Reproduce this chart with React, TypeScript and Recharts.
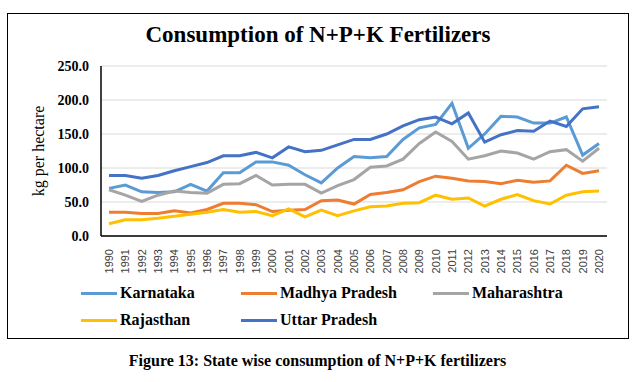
import { LineChart, Line, XAxis, YAxis, CartesianGrid } from "recharts";

const years = [
  "1990", "1991", "1992", "1993", "1994", "1995", "1996", "1997", "1998", "1999",
  "2000", "2001", "2002", "2003", "2004", "2005", "2006", "2007", "2008", "2009",
  "2010", "2011", "2012", "2013", "2014", "2015", "2016", "2017", "2018", "2019", "2020",
];

const karnataka = [70, 75, 65, 64, 65, 76, 66, 93, 93, 109, 109, 104, 90, 78, 100, 117, 115, 117, 142, 159, 164, 195, 129, 150, 176, 175, 166, 166, 175, 119, 136];
const madhyaPradesh = [35, 35, 33, 33, 37, 34, 39, 48, 48, 46, 36, 38, 39, 52, 53, 47, 61, 64, 68, 80, 88, 85, 81, 80, 77, 82, 79, 81, 104, 92, 96];
const maharashtra = [68, 60, 51, 60, 66, 64, 63, 76, 77, 89, 75, 76, 76, 63, 74, 83, 101, 103, 113, 136, 153, 139, 113, 118, 125, 122, 113, 124, 127, 110, 129];
const rajasthan = [18, 24, 24, 26, 29, 32, 35, 39, 35, 36, 30, 40, 28, 38, 30, 37, 43, 44, 48, 49, 60, 54, 56, 44, 54, 61, 52, 47, 60, 65, 66];
const uttarPradesh = [89, 89, 85, 89, 96, 102, 108, 118, 118, 123, 115, 131, 124, 126, 134, 142, 142, 150, 162, 171, 175, 165, 181, 138, 149, 155, 154, 169, 161, 187, 190];

const yTicks = [0, 50, 100, 150, 200, 250];

const series = [
  { key: "karnataka", name: "Karnataka", color: "#5B9BD5", values: karnataka },
  { key: "madhya", name: "Madhya Pradesh", color: "#ED7D31", values: madhyaPradesh },
  { key: "maharashtra", name: "Maharashtra", color: "#A5A5A5", values: maharashtra },
  { key: "rajasthan", name: "Rajasthan", color: "#FFC000", values: rajasthan },
  { key: "uttar", name: "Uttar Pradesh", color: "#4472C4", values: uttarPradesh },
];

const data = years.map((year, i) => {
  const row: Record<string, string | number> = { year };
  series.forEach((s) => {
    row[s.key] = s.values[i];
  });
  return row;
});

// legend slots, same order as the series list
const legendPos = [
  { left: 73, top: 270 },
  { left: 233, top: 270 },
  { left: 425, top: 270 },
  { left: 73, top: 297 },
  { left: 233, top: 297 },
];

const serif = "'Liberation Serif', 'DejaVu Serif', serif";

function YearTick(props: any) {
  const { x, y, payload } = props;
  return (
    <text
      x={0}
      y={0}
      transform={`translate(${x},${y + 5}) rotate(-90)`}
      textAnchor="end"
      dominantBaseline="central"
      fontFamily="'Liberation Sans', Arial, sans-serif"
      fontSize={11}
      fill="#404040"
    >
      {payload.value}
    </text>
  );
}

function ValueTick(props: any) {
  const { x, y, payload } = props;
  return (
    <text
      x={x - 4}
      y={y}
      textAnchor="end"
      dominantBaseline="central"
      fontFamily={serif}
      fontWeight="bold"
      fontSize={14}
      fill="#000"
    >
      {Number(payload.value).toFixed(1)}
    </text>
  );
}

export default function App() {
  return (
    <div
      style={{
        position: "absolute",
        left: 0,
        top: 0,
        width: 635,
        height: 382,
        background: "#fff",
      }}
    >
      <div
        style={{
          position: "absolute",
          left: 7,
          top: 13,
          width: 620,
          height: 324,
          border: "1px solid #000",
        }}
      >
        <div
          style={{
            position: "absolute",
            left: 0,
            top: 8,
            width: 620,
            textAlign: "center",
            fontFamily: serif,
            fontWeight: "bold",
            fontSize: 23,
            color: "#000",
          }}
        >
          Consumption of N+P+K Fertilizers
        </div>
        <LineChart
          width={620}
          height={324}
          data={data}
          margin={{ top: 52, right: 21, left: 0, bottom: 0 }}
        >
          <CartesianGrid vertical={false} stroke="#D9D9D9" />
          <XAxis
            dataKey="year"
            interval={0}
            height={102}
            padding={{ left: 8, right: 8 }}
            tick={<YearTick />}
            tickLine={false}
            axisLine={{ stroke: "#000", strokeWidth: 1.5 }}
          />
          <YAxis
            width={93}
            domain={[0, 250]}
            ticks={yTicks}
            tickLine={false}
            axisLine={{ stroke: "#000", strokeWidth: 1.5 }}
            tick={<ValueTick />}
            label={{
              value: "kg per hectare",
              angle: -90,
              position: "insideLeft",
              offset: 30,
              style: { fontFamily: serif, fontSize: 16, fill: "#000", textAnchor: "middle" },
            }}
          />
          {series.map((s) => (
            <Line
              key={s.key}
              type="linear"
              dataKey={s.key}
              name={s.name}
              stroke={s.color}
              strokeWidth={3}
              dot={false}
              isAnimationActive={false}
            />
          ))}
        </LineChart>
        {series.map((s, i) => (
          <div
            key={s.key}
            style={{
              position: "absolute",
              left: legendPos[i].left,
              top: legendPos[i].top,
              display: "flex",
              alignItems: "center",
              fontFamily: serif,
              fontWeight: "bold",
              fontSize: 16,
              color: "#000",
              whiteSpace: "nowrap",
            }}
          >
            <span
              style={{
                display: "inline-block",
                width: 36,
                height: 3,
                background: s.color,
                marginRight: 3,
              }}
            />
            {s.name}
          </div>
        ))}
      </div>
      <div
        style={{
          position: "absolute",
          left: 0,
          top: 352,
          width: 635,
          textAlign: "center",
          fontFamily: serif,
          fontWeight: "bold",
          fontSize: 16,
          color: "#000",
        }}
      >
        Figure 13: State wise consumption of N+P+K fertilizers
      </div>
    </div>
  );
}
